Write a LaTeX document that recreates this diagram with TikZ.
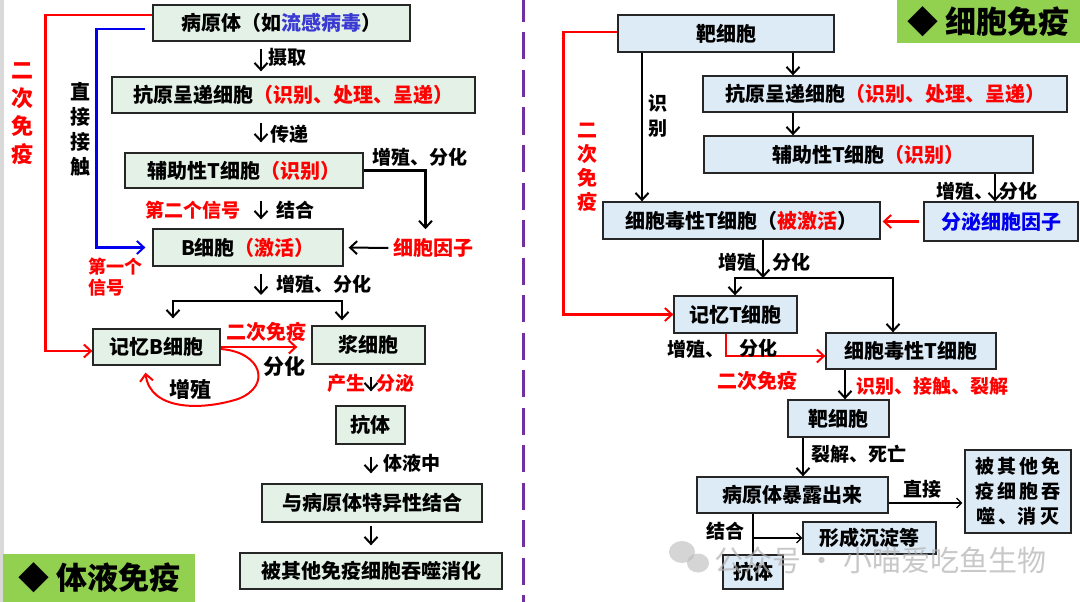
\documentclass[tikz,border=0pt]{standalone}
\usepackage{fontspec}
\setmainfont{Noto Sans CJK SC}
\usetikzlibrary{positioning, arrows.meta}
\definecolor{mintFill}{HTML}{E3F1E6}
\definecolor{iceFill}{HTML}{DDEBF7}
\definecolor{accentRed}{HTML}{FF0000}
\definecolor{accentBlue}{HTML}{0000EE}
\definecolor{virusBlue}{HTML}{3A3AD2}
\definecolor{tagGreen}{HTML}{92D050}
\definecolor{divPurple}{HTML}{7030A0}

\begin{document}
\begin{tikzpicture}[x=1pt, y=-1pt,
    every node/.style={inner sep=0pt, font=\bfseries\fontsize{20}{24}\selectfont},
    hbox/.style={draw=black!85, line width=1.3pt, fill=mintFill, minimum height=36pt},
    cbox/.style={draw=black!85, line width=1.3pt, fill=iceFill, minimum height=36pt},
    lbl/.style={font=\bfseries\fontsize{19}{23}\selectfont},
    rlbl/.style={lbl, text=accentRed},
    vlbl/.style={align=center, font=\bfseries\fontsize{20}{25}\selectfont},
    tag/.style={fill=tagGreen, anchor=north west, font=\bfseries\fontsize{31}{31}\selectfont},
    arr/.style={-{Straight Barb[length=7pt, width=13pt, line width=2pt]}, line width=2pt},
    thinarr/.style={-{Straight Barb[length=5pt, width=10pt]}, line width=1.2pt},
    redarr/.style={arr, draw=accentRed, line width=2.3pt},
    bluearr/.style={arr, draw=accentBlue, line width=2.3pt},
  ]
    \useasboundingbox (0,0) rectangle (1080,602);
    \fill[white] (0,0) rectangle (1080,602);
    \fill[black!15] (0,0) rectangle (4,602);
    \draw[divPurple, line width=3pt, dash pattern=on 27pt off 10.5pt, dash phase=5pt] (523,0) -- (523,602);

    % humoral immunity
    \node[hbox, minimum width=257pt] (pathA) at (281.5,23) {病原体（如\textcolor{virusBlue}{流感病毒}）};
    \node[hbox, minimum width=363pt] (apcA) at (293.5,95) {抗原呈递细胞\textcolor{accentRed}{（识别、处理、呈递）}};
    \node[hbox, minimum width=238pt, minimum height=35pt] (thA) at (244,170.5) {辅助性T细胞\textcolor{accentRed}{（识别）}};
    \node[hbox, minimum width=190pt, minimum height=37pt] (bA) at (248,247.5) {B细胞\textcolor{accentRed}{（激活）}};
    \node[hbox, minimum width=127pt] (memA) at (156.5,347) {记忆B细胞};
    \node[hbox, minimum width=113pt, minimum height=38pt] (plasmaA) at (368.5,345) {浆细胞};
    \node[hbox, minimum width=69pt, minimum height=38pt] (abA) at (370.5,425) {抗体};
    \node[hbox, minimum width=220pt, minimum height=38pt] (bindA) at (372,503) {与病原体特异性结合};
    \node[hbox, minimum width=262pt] (digA) at (371,571) {被其他免疫细胞吞噬消化};
    \node[tag, minimum width=192pt, minimum height=48pt] (tagA) at (3,554) {◆ 体液免疫};

    \coordinate (colA) at (261,0);
    \coordinate (barL) at (173,301);
    \coordinate (barR) at (342,301);
    \coordinate (splitA) at (261,301);
    \draw[arr, shorten <=7pt, shorten >=5pt] (pathA.south -| colA) -- (apcA.north -| colA);
    \node[lbl, anchor=west] at (268,57) {摄取};
    \draw[arr, shorten <=9pt, shorten >=10pt] (apcA.south -| colA) -- (thA.north -| colA);
    \node[lbl, anchor=west] at (270,134) {传递};
    \draw[arr, shorten <=12pt, shorten >=9pt] (thA.south -| colA) -- (bA.north -| colA);
    \node[rlbl] at (193,210) {第二个信号};
    \node[lbl, anchor=west] at (276,210) {结合};
    \draw[arr, shorten <=7pt, shorten >=6pt] (bA.south -| colA) -- (splitA);
    \node[lbl, anchor=west] at (276,284) {增殖、分化};
    \draw[arr, line width=2.2pt, shorten >=10pt] (splitA) -- (barL) -- (barL |- memA.north);
    \draw[arr, line width=2.2pt, shorten >=5pt] (splitA) -- (barR) -- (barR |- plasmaA.north);

    % cytokine branch
    \node[rlbl, font=\bfseries\fontsize{20}{24}\selectfont] (cytoA) at (433.5,248) {细胞因子};
    \node[lbl, anchor=west] at (372,157) {增殖、分化};
    \draw[arr, line width=2.2pt, shorten >=9pt] (thA.east) -| ([xshift=-8pt]cytoA.north);
    \draw[arr, shorten <=5pt, shorten >=5pt] (cytoA.west) -- (bA.east);

    % first signal and secondary response
    \draw[redarr] ([yshift=8pt]pathA.west) -- ++(-107,0) |- ([yshift=-4pt]memA.west);
    \node[vlbl, text=accentRed, font=\bfseries\fontsize{22}{28}\selectfont] at (23,114) {二\\次\\免\\疫};
    \draw[bluearr, shorten >=7pt] ([xshift=-7pt, yshift=-6pt]pathA.west) -- ++(-49,0) |- (bA.west);
    \node[vlbl] at (80,129) {直\\接\\接\\触};
    \node[rlbl, align=left, font=\bfseries\fontsize{18}{21}\selectfont] at (115,277) {第一个\\信号};
    \draw[redarr, shorten >=14pt] (memA.east) -- (memA.east -| plasmaA.west);
    \node[rlbl, font=\bfseries\fontsize{20}{24}\selectfont] at (266,332) {二次免疫};
    \draw[redarr, line width=2pt] ([yshift=-2pt]memA.east) .. controls (262,352) and (272,386) .. (238,399)
      .. controls (200,411) and (150,410) .. ([xshift=-11pt, yshift=-7pt]memA.south);
    \node[lbl, font=\bfseries\fontsize{21}{24}\selectfont] at (284,366) {分化};
    \node[lbl, font=\bfseries\fontsize{21}{24}\selectfont] at (190,389) {增殖};

    % antibody path
    \coordinate (colB) at (371,0);
    \draw[arr, shorten <=12pt, shorten >=14pt] (plasmaA.south -| colB) -- (abA.north -| colB);
    \node[rlbl, anchor=east] at (366,383) {产生};
    \node[rlbl, anchor=west] at (376,383) {分泌};
    \draw[arr, shorten <=12pt, shorten >=10pt] (abA.south -| colB) -- (bindA.north -| colB);
    \node[lbl, anchor=west] at (383,463) {体液中};
    \draw[arr, shorten <=3pt, shorten >=7pt] (bindA.south -| colB) -- (digA.north -| colB);

    % cellular immunity
    \node[cbox, minimum width=216pt, minimum height=37pt] (tgtC) at (726,33.5) {靶细胞};
    \node[cbox, minimum width=364pt] (apcC) at (885,94) {抗原呈递细胞\textcolor{accentRed}{（识别、处理、呈递）}};
    \node[cbox, minimum width=329pt, minimum height=37pt] (thC) at (868.5,154.5) {辅助性T细胞\textcolor{accentRed}{（识别）}};
    \node[cbox, minimum width=277pt, minimum height=37pt] (ctlC) at (741.5,220.5) {细胞毒性T细胞（\textcolor{accentRed}{被激活}）};
    \node[cbox, minimum width=154pt, minimum height=39pt, text=accentBlue] (secC) at (1001,221.5) {分泌细胞因子};
    \node[cbox, minimum width=123pt, minimum height=37pt] (memC) at (735.5,314.5) {记忆T细胞};
    \node[cbox, minimum width=170pt] (ctl2C) at (911,351) {细胞毒性T细胞};
    \node[cbox, minimum width=101pt, minimum height=37pt] (tgt2C) at (838.5,418.5) {靶细胞};
    \node[cbox, minimum width=191pt] (expC) at (792.5,495) {病原体暴露出来};
    \node[cbox, minimum width=106pt, minimum height=83pt, align=center, font=\bfseries\fontsize{19}{25}\selectfont] (engC) at (1018,491.5) {被\,其\,他\,免\\疫\,细\,胞\,吞\\噬\,、消\,灭};
    \node[cbox, minimum width=133pt, minimum height=32pt] (sedC) at (869.5,538) {形成沉淀等};
    \node[cbox, minimum width=60pt, minimum height=34pt] (ab2C) at (753,572) {抗体};
    \node[tag, minimum width=183pt, minimum height=43pt] (tagC) at (897,0) {◆ 细胞免疫};

    \coordinate (colC) at (793,0);
    \coordinate (recogC) at (642,0);
    \coordinate (colS) at (995,0);
    \draw[arr] (tgtC.south -| colC) -- (apcC.north -| colC);
    \draw[arr] (apcC.south -| colC) -- (thC.north -| colC);
    \draw[arr] (tgtC.south -| recogC) -- (ctlC.north -| recogC);
    \node[vlbl, font=\bfseries\fontsize{19}{25}\selectfont] at (658,115.5) {识\\别};
    \draw[arr] (thC.south -| colS) -- (secC.north -| colS);
    \node[lbl, anchor=east] at (994,191) {增殖、};
    \node[lbl, anchor=west] at (999,191) {分化};
    \draw[redarr, shorten <=4pt, shorten >=2pt] (secC.west) -- (secC.west -| ctlC.east);

    % split into memory and effector cells
    \coordinate (splitC) at (763,278);
    \coordinate (barCL) at (735,278);
    \coordinate (barCR) at (893,278);
    \draw[arr] (ctlC.south -| splitC) -- (splitC);
    \node[lbl, anchor=east] at (757,262) {增殖};
    \node[lbl, anchor=west] at (772,262) {分化};
    \draw[arr, line width=2.2pt] (splitC) -- (barCL) -- (barCL |- memC.north);
    \draw[arr, line width=2.2pt] (splitC) -- (barCR) -- (barCR |- ctl2C.north);

    % secondary response
    \coordinate (reC) at (726,0);
    \draw[redarr] ([yshift=1.5pt]tgtC.west) -- ++(-54,0) |- (memC.west);
    \node[vlbl, text=accentRed, font=\bfseries\fontsize{20}{24}\selectfont] at (587,167.5) {二\\次\\免\\疫};
    \draw[redarr] (memC.south -| reC) |- ([yshift=-5pt]ctl2C.west);
    \node[lbl, anchor=east] at (725,349) {增殖、};
    \node[lbl] at (758,348) {分化};
    \node[rlbl, font=\bfseries\fontsize{20}{24}\selectfont] at (757,381) {二次免疫};

    % killing of target cells
    \coordinate (colK) at (845,0);
    \coordinate (colD) at (803,0);
    \coordinate (colE) at (753,0);
    \draw[arr] (ctl2C.south -| colK) -- (tgt2C.north -| colK);
    \node[rlbl, anchor=west] at (856,386) {识别、接触、裂解};
    \draw[arr] (tgt2C.south -| colD) -- (expC.north -| colD);
    \node[lbl, anchor=west] at (811,454) {裂解、死亡};
    \draw[thinarr, shorten >=2pt] ([yshift=-8pt]expC.east) -- ([yshift=-8pt]expC.east -| engC.west);
    \node[lbl] at (922,489) {直接};
    \draw[line width=1.2pt] (expC.south -| colE) -- (ab2C.north -| colE);
    \draw[thinarr] (colE |- sedC.west) -- (sedC.west);
    \node[lbl] at (725,531) {结合};

    % watermark
    \fill[gray!55, opacity=0.6] (682,552) ellipse (13pt and 11pt);
    \fill[gray!55, opacity=0.6] (698,563) ellipse (11pt and 9.5pt);
    \node[text=gray!60, opacity=0.7, font=\mdseries\fontsize{29}{29}\selectfont] (markC) at (880,560) {公众号 · 小喵爱吃鱼生物};
\end{tikzpicture}
\end{document}
